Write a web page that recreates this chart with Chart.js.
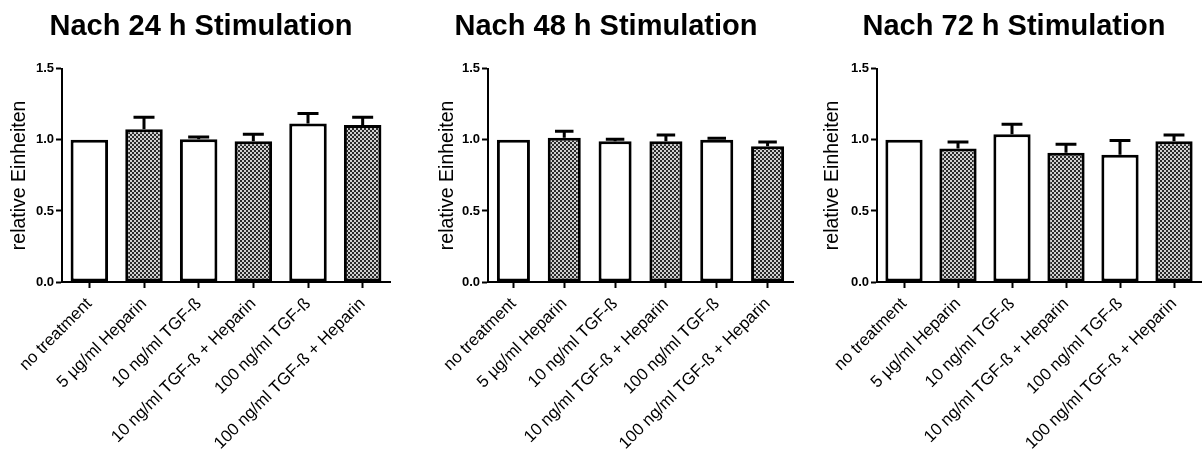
<!DOCTYPE html>
<html lang="de">
<head>
  <meta charset="UTF-8" />
  <title>Stimulation</title>
  <script src="https://cdn.jsdelivr.net/npm/chart.js"></script>
  <style>
    body {
      margin: 0;
      background: white;
      width: 1202px;
      height: 450px;
      position: relative;
      overflow: hidden;
    }
    .panel {
      position: absolute;
      top: 0;
      height: 450px;
    }
  </style>
</head>
<body>
  <div class="panel" style="left:0px;width:400px"><canvas id="c24" width="400" height="450"></canvas></div>
  <div class="panel" style="left:400px;width:400px"><canvas id="c48" width="400" height="450"></canvas></div>
  <div class="panel" style="left:800px;width:402px"><canvas id="c72" width="402" height="450"></canvas></div>

  <script>
    // data
    const categories = [
      "no treatment",
      "5 µg/ml Heparin",
      "10 ng/ml TGF-ß",
      "10 ng/ml TGF-ß + Heparin",
      "100 ng/ml TGF-ß",
      "100 ng/ml TGF-ß + Heparin"
    ];
    const titles = ["Nach 24 h Stimulation", "Nach 48 h Stimulation", "Nach 72 h Stimulation"];
    const yTitle = "relative Einheiten";

    const vals24 = [1.0, 1.075, 1.005, 0.99, 1.115, 1.105];
    const err24  = [0, 0.085, 0.015, 0.05, 0.07, 0.055];
    const vals48 = [1.0, 1.015, 0.99, 0.99, 1.0, 0.955];
    const err48  = [0, 0.045, 0.015, 0.045, 0.012, 0.03];
    const vals72 = [1.0, 0.94, 1.04, 0.91, 0.895, 0.99];
    const err72  = [0, 0.045, 0.07, 0.06, 0.1, 0.045];

    const yMax = 1.5;
    const yStep = 0.5;

    const FONT = "'Liberation Sans', Arial, sans-serif";

    function makePattern(ctx) {
      const p = document.createElement("canvas");
      p.width = 4; p.height = 4;
      const pc = p.getContext("2d");
      pc.fillStyle = "#d0d0d0";
      pc.fillRect(0, 0, 4, 4);
      pc.fillStyle = "#2a2a2a";
      pc.fillRect(0, 0, 2, 2);
      pc.fillRect(2, 2, 2, 2);
      return ctx.createPattern(p, "repeat");
    }

    // upward error bars, GraphPad style
    const errorBars = {
      id: "errorBars",
      afterDatasetsDraw(chart) {
        const ctx = chart.ctx;
        const meta = chart.getDatasetMeta(0);
        const ds = chart.data.datasets[0];
        const y = chart.scales.y;
        ctx.save();
        ctx.strokeStyle = "#000";
        ctx.lineWidth = 3;
        meta.data.forEach((bar, i) => {
          const e = ds.errors[i];
          if (!e) return;
          const top = y.getPixelForValue(ds.data[i] + e);
          const half = bar.width * 0.28;
          ctx.beginPath();
          ctx.moveTo(bar.x, bar.y);
          ctx.lineTo(bar.x, top);
          ctx.moveTo(bar.x - half, top);
          ctx.lineTo(bar.x + half, top);
          ctx.stroke();
        });
        ctx.restore();
      }
    };

    function makeChart(id, title, values, errors, lay) {
      const ctx = document.getElementById(id).getContext("2d");
      const pattern = makePattern(ctx);
      const fills = values.map((v, i) => (i % 2 ? pattern : "#ffffff"));
      return new Chart(ctx, {
        type: "bar",
        data: {
          labels: categories,
          datasets: [{
            data: values,
            errors: errors,
            backgroundColor: fills,
            borderColor: "#000",
            borderWidth: 3,
            borderSkipped: false,
            barPercentage: lay.bar,
            categoryPercentage: 1.0
          }]
        },
        options: {
          responsive: false,
          animation: false,
          layout: { padding: { left: lay.left, right: lay.right, top: 0, bottom: 0 } },
          plugins: {
            legend: { display: false },
            tooltip: { enabled: false },
            title: {
              display: true,
              text: title,
              color: "#000",
              font: { family: FONT, size: 29, weight: "bold" },
              padding: { top: 10, bottom: 24 }
            }
          },
          scales: {
            x: {
              offset: true,
              grid: { display: true, drawOnChartArea: false, offset: false, tickLength: 6, tickColor: "#000", tickWidth: 2 },
              border: { color: "#000", width: 2 },
              ticks: {
                color: "#000",
                font: { family: FONT, size: 16.8 },
                minRotation: 45,
                maxRotation: 45,
                autoSkip: false,
                padding: 6
              },
              afterFit(s) { s.height = 168; }
            },
            y: {
              min: 0,
              max: yMax,
              grid: { drawOnChartArea: false, tickLength: 6, tickColor: "#000", tickWidth: 2 },
              border: { color: "#000", width: 2 },
              ticks: {
                stepSize: yStep,
                color: "#000",
                padding: 2,
                font: { family: FONT, size: 13, weight: "bold" },
                callback: v => Number(v).toFixed(1)
              },
              title: {
                display: true,
                text: yTitle,
                color: "#000",
                font: { family: FONT, size: 19.5 },
                padding: { top: lay.yt, bottom: 0 }
              },
              afterFit(s) { s.width = lay.yw; }
            }
          }
        },
        plugins: [errorBars]
      });
    }

    makeChart("c24", titles[0], vals24, err24, { left: 12, right: 10, yw: 50, yt: -4, bar: 0.686 });
    makeChart("c48", titles[1], vals48, err48, { left: 19, right: 7, yw: 69, yt: 17, bar: 0.65 });
    makeChart("c72", titles[2], vals72, err72, { left: 27, right: 1, yw: 50, yt: -6, bar: 0.69 });
  </script>
</body>
</html>
